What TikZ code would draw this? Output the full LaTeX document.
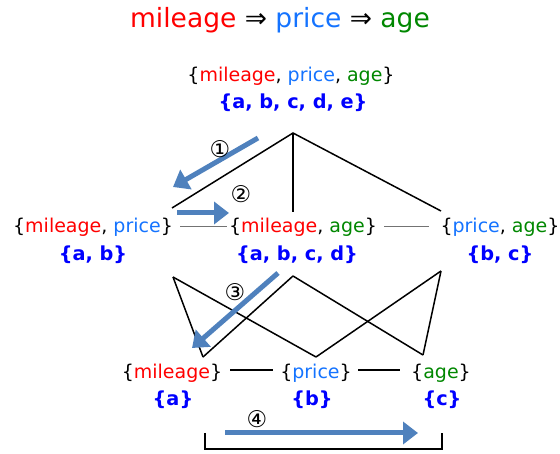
\documentclass[tikz,border=0pt]{standalone}
\usepackage{fontspec}
\setmainfont{DejaVu Sans}
\usetikzlibrary{arrows.meta}
\definecolor{cred}{RGB}{255,0,0}
\definecolor{cblue}{RGB}{20,115,255}
\definecolor{cgreen}{RGB}{0,135,0}
\definecolor{setblue}{RGB}{0,0,255}
\definecolor{arrblue}{RGB}{79,129,189}
\newcommand{\wMi}{\textcolor{cred}{mileage}}
\newcommand{\wPr}{\textcolor{cblue}{price}}
\newcommand{\wAg}{\textcolor{cgreen}{age}}
\tikzset{
  lbl/.style={inner sep=0pt, font=\fontsize{19}{22}\selectfont},
  setlbl/.style={inner sep=0pt, text=setblue, font=\fontsize{19.3}{22}\selectfont\bfseries},
  edge/.style={line width=1.5pt, black},
  grayedge/.style={line width=1pt, black!55},
  bigarrow/.style={line width=5pt, arrblue, -{Triangle[length=15pt,width=22pt]}},
  numlbl/.style={inner sep=0pt, font=\fontsize{23}{25}\selectfont},
}
\begin{document}
\begin{tikzpicture}[x=1pt,y=-1pt]
\useasboundingbox (0,0) rectangle (560,454);
% title
\node[inner sep=0pt, font=\fontsize{26.5}{28}\selectfont] (title) at (280,20) {\wMi{} ⇒ \wPr{} ⇒ \wAg};
% top
\node[lbl] (top) at (291,76) {\{\wMi, \wPr, \wAg\}};
\node[setlbl] (topset) at (293,103) {\{a, b, c, d, e\}};
% middle row
\node[lbl] (mp) at (93,227) {\{\wMi, \wPr\}};
\node[setlbl] (mpset) at (93,255) {\{a, b\}};
\node[lbl] (ma) at (303,227) {\{\wMi, \wAg\}};
\node[setlbl] (maset) at (297,255) {\{a, b, c, d\}};
\node[lbl] (pa) at (500,227) {\{\wPr, \wAg\}};
\node[setlbl] (paset) at (500,255) {\{b, c\}};
% bottom row
\node[lbl] (m) at (172,373) {\{\wMi\}};
\node[setlbl] (mset) at (173,400) {\{a\}};
\node[lbl] (p) at (316,373) {\{\wPr\}};
\node[setlbl] (pset) at (312,400) {\{b\}};
\node[lbl] (a) at (441,373) {\{\wAg\}};
\node[setlbl] (aset) at (442,400) {\{c\}};
% coordinates for connector ends
\coordinate (apex) at (293,133);
\coordinate (mpTop) at (172,208);
\coordinate (maTop) at (293,212);
\coordinate (paTop) at (441,211);
\coordinate (mpR) at (180,227);
\coordinate (maL) at (227,227);
\coordinate (maR) at (384,227);
\coordinate (paL) at (429,227);
\coordinate (mpBot) at (173,277);
\coordinate (maBot) at (293,276);
\coordinate (paBot) at (441,271);
\coordinate (mTop) at (203,357);
\coordinate (pTop) at (316,357);
\coordinate (aTop) at (423,355);
\coordinate (mR) at (230,370);
\coordinate (pL) at (273,370);
\coordinate (pR) at (358,370);
\coordinate (aL) at (400,370);
\coordinate (brL) at (205,433);
\coordinate (brR) at (442,433);
% lattice edges
\draw[edge] (mpTop) -- (apex) -- (paTop);
\draw[edge] (apex) -- (maTop);
\draw[grayedge] (mpR) -- (maL);
\draw[grayedge] (maR) -- (paL);
\draw[edge] (mpBot) -- (mTop);
\draw[edge] (mpBot) -- (pTop);
\draw[edge] (maBot) -- (mTop);
\draw[edge] (maBot) -- (aTop);
\draw[edge] (paBot) -- (pTop);
\draw[edge] (paBot) -- (aTop);
\draw[line width=1.2pt] (mR) -- (pL);
\draw[line width=1.2pt] (pR) -- (aL);
\draw[edge] (brL) -- ++(0,16) -| (brR);
% blue arrows
\coordinate (a1s) at (258,138); \coordinate (a1e) at (173,187);
\coordinate (a2s) at (177,213); \coordinate (a2e) at (229,213);
\coordinate (a3s) at (278,273); \coordinate (a3e) at (192,348);
\coordinate (a4s) at (225,433); \coordinate (a4e) at (418,433);
\draw[bigarrow] (a1s) -- (a1e);
\draw[bigarrow] (a2s) -- (a2e);
\draw[bigarrow] (a3s) -- (a3e);
\draw[bigarrow] (a4s) -- (a4e);
\node[numlbl] (n1) at (220,149) {①};
\node[numlbl] (n2) at (241,194) {②};
\node[numlbl] (n3) at (235,292) {③};
\node[numlbl] (n4) at (257,419) {④};
\end{tikzpicture}
\end{document}
